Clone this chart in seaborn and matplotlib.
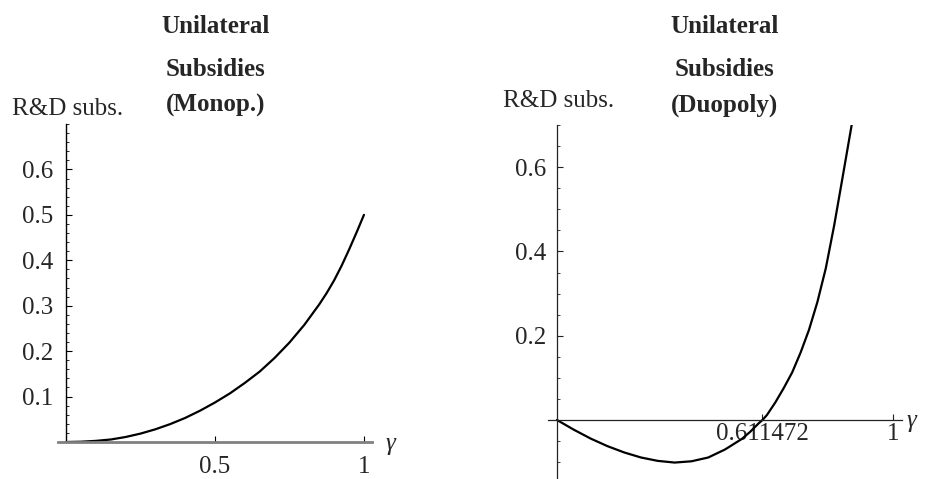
import numpy as np
import pandas as pd
import matplotlib
matplotlib.use("Agg")
import matplotlib.pyplot as plt
from matplotlib.ticker import FixedLocator, MultipleLocator
import seaborn as sns

# Datos
gamma_monop = [0, 0.05, 0.1, 0.15, 0.2, 0.25, 0.3, 0.35, 0.4, 0.45, 0.5,
               0.55, 0.6, 0.65, 0.7, 0.75, 0.8, 0.85, 0.875, 0.9, 0.925, 0.95, 0.975, 1.0]
subs_monop = [0, 0.0006, 0.0025, 0.0055, 0.011, 0.0185, 0.028, 0.0395, 0.053, 0.069, 0.087,
              0.107, 0.130, 0.155, 0.185, 0.219, 0.258, 0.303, 0.328, 0.356, 0.388, 0.4235, 0.461, 0.5]

gamma_duop = [0, 0.05, 0.1, 0.15, 0.2, 0.25, 0.3, 0.35, 0.4, 0.45, 0.5,
              0.55, 0.575, 0.6, 0.611472, 0.625, 0.65, 0.675, 0.7, 0.725, 0.75,
              0.775, 0.8, 0.825, 0.85, 0.877]
subs_duop = [0, -0.023, -0.044, -0.062, -0.077, -0.089, -0.097, -0.101, -0.098, -0.089, -0.07,
             -0.045, -0.028, -0.008, 0, 0.012, 0.042, 0.076, 0.113, 0.160, 0.214,
             0.280, 0.360, 0.462, 0.576, 0.70]

xticks_monop = [0.5, 1]
yticks_monop = [0.1, 0.2, 0.3, 0.4, 0.5, 0.6]
xticks_duop = [0.611472, 1]
xticklabels_duop = ["0.611472", "1"]
yticks_duop = [0.2, 0.4, 0.6]

title_monop = ["Unilateral", "Subsidies", "(Monop.)"]
title_duop = ["Unilateral", "Subsidies", "(Duopoly)"]
ylabel = "R&D subs."
xlabel = "γ"

sns.set_style("white")
plt.rcParams['font.family'] = ['Liberation Serif', 'DejaVu Serif']

W, H = 929, 479
fig = plt.figure(figsize=(W / 100, H / 100), dpi=100)


def px(x, y):
    return x / W, 1 - y / H


FS = 18

# 1. Monopolio
ax1 = fig.add_axes([58 / W, 37 / H, 314 / W, 318 / H])
df1 = pd.DataFrame({'g': gamma_monop, 's': subs_monop})
sns.lineplot(data=df1, x='g', y='s', ax=ax1, color='black', linewidth=1.6)
ax1.set_xlim(-0.027, 1.027)
ax1.set_ylim(0, 0.7)
ax1.spines['top'].set_visible(False)
ax1.spines['right'].set_visible(False)
ax1.spines['left'].set_position(('data', 0))
ax1.spines['left'].set_linewidth(1.0)
ax1.spines['left'].set_color('black')
ax1.spines['bottom'].set_color('#808080')
ax1.spines['bottom'].set_linewidth(2.0)
ax1.xaxis.set_major_locator(FixedLocator(xticks_monop))
ax1.set_xticklabels(["0.5", "1"])
ax1.yaxis.set_major_locator(FixedLocator(yticks_monop))
ax1.set_yticklabels([f"{v:g}" for v in yticks_monop])
ax1.yaxis.set_minor_locator(MultipleLocator(0.02))
ax1.tick_params(axis='both', which='both', left=True, bottom=True)
ax1.tick_params(axis='both', which='major', direction='in', length=4, width=0.8,
                labelsize=FS, color='black')
ax1.tick_params(axis='y', which='minor', direction='in', length=2, width=0.6, color='black')
ax1.tick_params(axis='y', which='major', pad=9)
ax1.tick_params(axis='x', which='major', pad=10)
ax1.set_xlabel('')
ax1.set_ylabel('')
ax1.patch.set_alpha(0)

# 2. Duopolio
ax2 = fig.add_axes([548 / W, 0, 354 / W, 354 / H])
df2 = pd.DataFrame({'g': gamma_duop, 's': subs_duop})
sns.lineplot(data=df2, x='g', y='s', ax=ax2, color='black', linewidth=1.6)
ax2.set_xlim(-0.0268, 1.0268)
ax2.set_ylim(-0.14, 0.7)
ax2.spines['top'].set_visible(False)
ax2.spines['right'].set_visible(False)
ax2.spines['left'].set_position(('data', 0))
ax2.spines['bottom'].set_position(('data', 0))
for sp in ['left', 'bottom']:
    ax2.spines[sp].set_color('#222222')
    ax2.spines[sp].set_linewidth(0.9)
ax2.xaxis.set_major_locator(FixedLocator(xticks_duop))
ax2.set_xticklabels(xticklabels_duop)
ax2.yaxis.set_major_locator(FixedLocator(yticks_duop))
ax2.set_yticklabels([f"{v:g}" for v in yticks_duop])
ax2.yaxis.set_minor_locator(MultipleLocator(0.05))
ax2.tick_params(axis='both', which='both', left=True, bottom=True)
ax2.tick_params(axis='both', which='major', direction='in', length=4, width=0.8,
                labelsize=FS, color='#222222')
ax2.tick_params(axis='y', which='minor', direction='in', length=2, width=0.6, color='#222222')
ax2.tick_params(axis='y', which='major', pad=8)
ax2.tick_params(axis='x', which='major', pad=2)
ax2.set_xlabel('')
ax2.set_ylabel('')
ax2.patch.set_alpha(0)

# Títulos y etiquetas
for cx, lines in [(216, title_monop), (725, title_duop)]:
    for yb, txt in zip([33, 76, 112], lines):
        fig.text(*px(cx, yb), txt, ha='center', va='baseline', fontsize=FS, fontweight='bold')

fig.text(*px(12, 115), ylabel, ha='left', va='baseline', fontsize=FS)
fig.text(*px(503, 107), ylabel, ha='left', va='baseline', fontsize=FS)
fig.text(*px(386, 444), xlabel, ha='left', va='center', fontsize=FS, fontstyle='italic')
fig.text(*px(907, 421), xlabel, ha='left', va='center', fontsize=FS, fontstyle='italic')

plt.savefig("out.png", dpi=100)
